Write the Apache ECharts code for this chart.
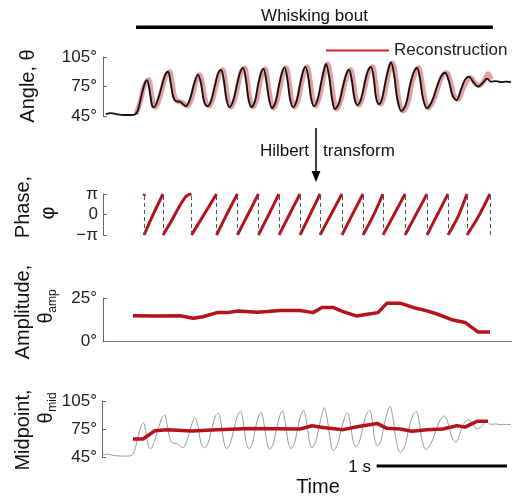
<!DOCTYPE html>
<html><head><meta charset="utf-8">
<script src="https://cdn.jsdelivr.net/npm/echarts@6/dist/echarts.min.js"></script>
<style>html,body{margin:0;padding:0;background:#fff}#c{width:512px;height:498px}</style>
</head><body><div id="c"></div>
<script>
// time in ms, values in degrees / radians
const angleTrace = [[23,47],[62,48],[101,47],[163,46],[217,46],[248,46.5],[271,51],[302,68],[326,79],[341,81.5],[360,72],[380,56],[395,54],[426,62],[457,76],[480,86],[504,90],[523,80],[543,65],[566,60],[597,59.5],[620,57],[643,55],[674,62],[705,77],[736,87],[760,78],[783,60],[810,55],[837,60],[868,76],[891,88],[915,92],[938,80],[957,62],[980,54],[1008,60],[1039,77],[1062,89],[1085,94],[1108,82],[1128,62],[1151,54],[1178,60],[1201,76],[1225,89],[1244,93],[1267,80],[1287,62],[1310,53],[1337,59],[1364,76],[1387,89],[1407,94.5],[1430,82],[1449,63],[1473,54],[1500,60],[1527,77],[1550,90],[1569,95],[1593,83],[1612,64],[1635,55],[1662,61],[1690,78],[1713,92],[1728,98],[1752,86],[1775,63],[1798,52],[1829,58],[1860,75],[1887,88],[1907,92],[1930,80],[1949,63],[1972,56],[2000,62],[2031,80],[2054,91],[2077,95],[2100,82],[2116,64],[2139,57],[2162,62],[2193,82],[2217,95],[2232,99.5],[2255,88],[2282,62],[2313,50],[2348,57],[2379,76],[2410,90],[2434,94],[2457,83],[2480,63],[2511,53],[2550,60],[2589,75],[2620,85],[2651,89],[2682,80],[2709,66],[2740,61],[2775,72],[2806,82],[2837,85],[2868,80],[2906,75],[2945,79],[2976,83],[3007,80],[3046,80.5],[3085,79.5],[3123,80],[3162,79.5]];
const reconstruction = [[256,47],[290,60],[318,75],[353,82],[375,68],[392,55],[407,54],[438,63],[469,78],[492,87],[516,90],[537,78],[556,64],[580,60],[612,59],[640,56],[655,55],[690,64],[720,80],[748,87],[773,76],[795,60],[822,55],[850,62],[880,78],[905,89],[927,92],[950,78],[970,61],[992,54],[1022,62],[1052,80],[1075,91],[1097,94],[1120,80],[1140,61],[1163,54],[1192,62],[1215,78],[1238,90],[1256,93],[1279,78],[1300,61],[1322,53],[1350,61],[1378,78],[1400,91],[1419,94],[1442,80],[1462,62],[1485,54],[1513,62],[1540,79],[1563,91],[1581,95],[1605,81],[1625,63],[1647,55],[1675,63],[1703,80],[1725,93],[1740,98],[1765,84],[1788,62],[1810,52],[1842,60],[1872,77],[1899,89],[1919,92],[1942,78],[1962,62],[1984,56],[2012,64],[2044,82],[2066,92],[2089,95],[2112,80],[2130,63],[2151,57],[2176,64],[2206,84],[2229,96],[2244,99],[2268,86],[2295,60],[2325,50],[2362,58],[2392,77],[2422,90],[2446,94],[2470,81],[2494,62],[2523,53],[2563,61],[2602,76],[2632,86],[2663,89],[2695,79],[2722,65],[2752,62],[2788,72],[2818,80],[2850,84],[2880,79],[2918,76],[2955,81],[2985,88],[3008,82]];
const phaseSegments = [
  [[318,2.85],[322,3.14]],
  [[318,-3.14],[391,0.1],[465,3.14]],
  [[465,-3.14],[530,-1.0],[597,1.41],[640,2.7],[665,3.05],[686,3.14]],
  [[686,-3.14],[783,0],[880,3.14]],
  [[880,-3.14],[961,0.1],[1042,3.14]],
  [[1042,-3.14],[1123,0],[1205,3.14]],
  [[1205,-3.14],[1285,0],[1364,3.14]],
  [[1364,-3.14],[1445,0],[1527,3.14]],
  [[1527,-3.14],[1605,0],[1682,3.14]],
  [[1682,-3.14],[1767,0],[1852,3.14]],
  [[1852,-3.14],[1933,0],[2015,3.14]],
  [[2015,-3.14],[2092,-0.3],[2170,3.14]],
  [[2170,-3.14],[2256,0],[2341,3.14]],
  [[2341,-3.14],[2426,0],[2511,3.14]],
  [[2511,-3.14],[2592,0],[2674,3.14]],
  [[2674,-3.14],[2750,-0.4],[2821,3.14]],
  [[2821,-3.14],[2910,-0.3],[2999,3.14]]
];
const phaseWraps = [318,465,686,880,1042,1205,1364,1527,1682,1852,2015,2170,2341,2511,2674,2821,2999];
const amplitude = [[232,14.7],[418,14.5],[597,14.7],[698,13.2],[775,14.1],[884,16.5],[961,16.5],[1046,17.5],[1194,16.7],[1271,17.1],[1372,17.7],[1527,17.7],[1628,16.5],[1697,19.5],[1783,19.5],[1860,17.1],[1969,14.5],[2046,15.5],[2131,16.5],[2201,22],[2302,22],[2403,19.5],[2511,17.5],[2589,15.7],[2713,12.2],[2806,10.8],[2906,5.3],[2999,5.3]];
const midpoint = [[261,64.3],[338,64.3],[430,73.2],[522,74.3],[714,72.9],[906,74.3],[1159,75.6],[1543,75],[1635,78.5],[1719,76.5],[1873,74.3],[2003,77.9],[2134,81],[2210,75.7],[2310,75],[2402,72.5],[2517,74.3],[2640,75],[2748,78.6],[2809,77],[2901,83.2],[2986,83.2]];
const angleTicks = [45, 105, 30];
const ampTicks = [0, 25, 25];
const bout = [256, 3022];
const scaleBar = [2131, 3131];
const T_MAX = 3170;

const FONT = '"Liberation Sans", Arial, Helvetica, sans-serif';
const RED = '#b5121b';
const chart = echarts.init(document.getElementById('c'));
const grids = [
  {left:103, width:409, top:57, height:59},
  {left:103, width:409, top:194, height:41},
  {left:103, width:409, top:298, height:43},
  {left:99, width:413, top:401, height:56}
];
function yAx(i, min, max, interval, fmt, offset) {
  return {gridIndex:i, type:'value', min:min, max:max, interval:interval, offset:offset,
    axisLine:{show:true, lineStyle:{color:'#666', width:1}},
    axisTick:{show:true, inside:true, length:4, lineStyle:{color:'#666'}},
    axisLabel:{formatter:fmt, fontSize:17, fontFamily:FONT, color:'#222', margin:5},
    splitLine:{show:false}};
}
const deg = v => v + '°';
const series = [
  {type:'line', xAxisIndex:0, yAxisIndex:0, data:reconstruction, showSymbol:false, smooth:0.35,
   lineStyle:{color:'rgba(205,80,80,0.55)', width:5}, z:2, name:'Reconstruction'},
  {type:'line', xAxisIndex:0, yAxisIndex:0, data:angleTrace, showSymbol:false, smooth:0.35,
   lineStyle:{color:'#111', width:1.8}, z:3},
  {type:'line', xAxisIndex:1, yAxisIndex:1, data:[[phaseWraps[0],0]], showSymbol:false, lineStyle:{opacity:0},
   markLine:{symbol:'none', silent:true, label:{show:false}, animation:false,
     lineStyle:{type:[4,3], color:'#555', width:1}, data:phaseWraps.map(v=>({xAxis:v}))}, z:1}
];
phaseSegments.forEach(seg => series.push({type:'line', xAxisIndex:1, yAxisIndex:1, data:seg, showSymbol:false,
  smooth:0.3, lineStyle:{color:RED, width:3}, z:4}));
series.push({type:'line', xAxisIndex:2, yAxisIndex:2, data:amplitude, showSymbol:false, lineStyle:{color:RED, width:3.5}, z:3});
series.push({type:'line', xAxisIndex:3, yAxisIndex:3, data:angleTrace, showSymbol:false, smooth:0.35, lineStyle:{color:'#999', width:1}, z:2});
series.push({type:'line', xAxisIndex:3, yAxisIndex:3, data:midpoint, showSymbol:false, lineStyle:{color:RED, width:3.5}, z:3});

chart.setOption({
  animation:false,
  grid:grids,
  xAxis:grids.map((g,i)=>({gridIndex:i, type:'value', min:0, max:T_MAX, show:i===2,
    axisLine:{show:true, onZero:false, lineStyle:{color:'#777'}}, axisTick:{show:false}, axisLabel:{show:false}, splitLine:{show:false}})),
  yAxis:[
    yAx(0, angleTicks[0], angleTicks[1], angleTicks[2], deg, 1),
    yAx(1, -Math.PI, Math.PI, Math.PI, v => v < -1 ? '−π' : (v > 1 ? 'π' : '0'), 0),
    yAx(2, ampTicks[0], ampTicks[1], ampTicks[2], deg, 1),
    yAx(3, angleTicks[0], angleTicks[1], angleTicks[2], deg, -3)
  ],
  legend:{data:[{name:'Reconstruction', icon:'rect', itemStyle:{color:'#c8262e'}}], left:321, top:37,
    itemWidth:63, itemHeight:2, textStyle:{fontSize:17, fontFamily:FONT, color:'#222'}},
  series:series
});

const px = (gi, x, y) => chart.convertToPixel({gridIndex:gi}, [x, y]);
const b0 = px(0, bout[0], 105), b1 = px(0, bout[1], 105);
const s0 = px(3, scaleBar[0], 45), s1 = px(3, scaleBar[1], 45);
function txt(x, y, text, size, align, rot) {
  return {type:'text', x:x, y:y, rotation:rot||0, style:{text:text, fontSize:size, fontFamily:FONT, fill:'#111',
    align:align||'center', verticalAlign:'middle', textAlign:align||'center', textVerticalAlign:'middle'}};
}
const R = Math.PI/2;
chart.setOption({graphic:[
  {type:'rect', shape:{x:b0[0], y:25.5, width:b1[0]-b0[0], height:3.5}, style:{fill:'#000'}},
  txt((b0[0]+b1[0])/2, 16, 'Whisking bout', 17),
  {type:'line', shape:{x1:316, y1:128, x2:316, y2:173}, style:{stroke:'#000', lineWidth:1.5}},
  {type:'polygon', shape:{points:[[311.5,171],[320.5,171],[316,182]]}, style:{fill:'#000'}},
  txt(309, 151, 'Hilbert', 17, 'right'),
  txt(323, 151, 'transform', 17, 'left'),
  {type:'rect', shape:{x:s0[0], y:464.5, width:s1[0]-s0[0], height:3}, style:{fill:'#000'}},
  txt(371, 467, '1 s', 17, 'right'),
  txt(318, 487, 'Time', 20),
  txt(28, 86, 'Angle, θ', 20, 'center', R),
  txt(23, 207, 'Phase,', 20, 'center', R),
  txt(48, 213, 'φ', 20, 'center', R),
  txt(23, 312, 'Amplitude,', 20, 'center', R),
  txt(46, 318, 'θ', 20, 'center', R),
  txt(53, 301, 'amp', 12, 'center', R),
  txt(23, 430, 'Midpoint,', 20, 'center', R),
  txt(46, 418, 'θ', 20, 'center', R),
  txt(53, 402, 'mid', 12, 'center', R)
]});
</script></body></html>
